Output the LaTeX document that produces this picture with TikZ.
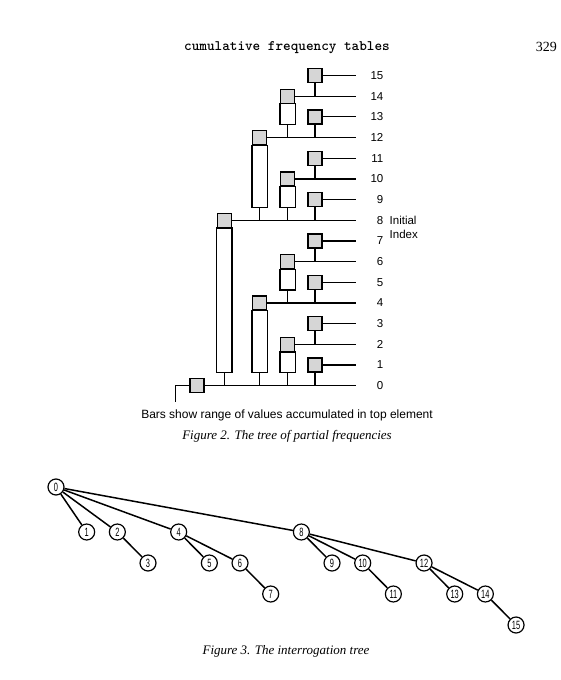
\documentclass[tikz,border=0pt]{standalone}
\usepackage{fontspec}
\setmainfont{Liberation Serif}
\setsansfont{Liberation Sans}
\newfontfamily\narrowsans{Liberation Sans}[FakeStretch=0.62]
\usepackage{tikz}
\usetikzlibrary{calc,positioning}

\tikzset{
  cell/.style={draw, line width=1.3pt, fill=black!16, minimum size=14pt, inner sep=0pt},
  bar/.style={draw, line width=1.3pt},
  rowline/.style={line width=1.2pt},
  rowlabel/.style={inner sep=0pt, font=\sffamily\fontsize{11.5}{14.5}\selectfont},
  tnode/.style={circle, draw, line width=1.2pt, minimum size=16pt, inner sep=0pt,
    font=\narrowsans\fontsize{12}{12}\selectfont},
  tedge/.style={line width=1.5pt}
}

\begin{document}
\begin{tikzpicture}[x=1pt,y=-1pt]
  \useasboundingbox (0,0) rectangle (560,680);
  % running head
  \node[font=\ttfamily\bfseries\fontsize{14.5}{14.5}\selectfont] (head) at (287,48) {cumulative frequency tables};
  \node[anchor=east, inner sep=0pt, font=\fontsize{14}{14}\selectfont] (page) at (557,47) {329};

  % Figure 2: rows, boxes, bars
  \foreach \i in {0,...,15}{
    \coordinate (e\i) at (356,{385.7-20.68*\i});
    \node[rowlabel, anchor=east] (l\i) at (383.5,{385.7-20.68*\i}) {\i};
  }
  \node[rowlabel, align=left, anchor=west] (init) at (389.5,227.5) {Initial\\Index};
  \foreach \i/\x in {1/315,3/315,5/315,7/315,9/315,11/315,13/315,15/315,
      2/287.5,6/287.5,10/287.5,14/287.5,4/259.7,12/259.7,8/224.3,0/197}
    \node[cell] (b\i) at (\x,{385.7-20.68*\i}) {};
  \foreach \i in {0,...,15}
    \draw[rowline] (b\i.east) -- (e\i);
  % odd entries hang straight on their parent row
  \foreach \i/\p in {1/0,3/2,5/4,7/6,9/8,11/10,13/12,15/14}
    \draw[rowline] (b\i.south) -- (b\i.south |- e\p);
  % even entries carry a bar down to just above the parent row
  \foreach \i/\p in {2/0,6/4,10/8,14/12,4/0,12/8,8/0}{
    \draw[bar] (b\i.south west) rectangle ($(b\i.east |- e\p)+(0,-13)$);
    \coordinate (t\i) at ($(b\i.south |- e\p)+(0,-13)$);
    \draw[rowline] (t\i) -- (t\i |- e\p);
  }
  \coordinate (stub) at (175.5,402);
  \draw[rowline] (b0.west) -| (stub);

  \node[font=\sffamily\fontsize{12}{12}\selectfont] (note) at (287,415) {Bars show range of values accumulated in top element};
  \node[font=\itshape\fontsize{13}{13}\selectfont] (cap2) at (287,436.7) {Figure 2. The tree of partial frequencies};

  % Figure 3: interrogation tree
  \foreach \i/\y in {0/487,1/532,2/532,3/563,4/532,5/563,6/563,7/594,8/532,
      9/563,10/563,11/594,12/563,13/594,14/594,15/625}
    \node[tnode] (n\i) at ({56+30.67*\i},\y) {\i};
  \foreach \p/\c in {0/1,0/2,0/4,0/8,2/3,4/5,4/6,6/7,8/9,8/10,8/12,10/11,12/13,12/14,14/15}
    \draw[tedge] (n\p) -- (n\c);

  \node[font=\itshape\fontsize{13}{13}\selectfont] (cap3) at (286,651) {Figure 3. The interrogation tree};
\end{tikzpicture}
\end{document}
